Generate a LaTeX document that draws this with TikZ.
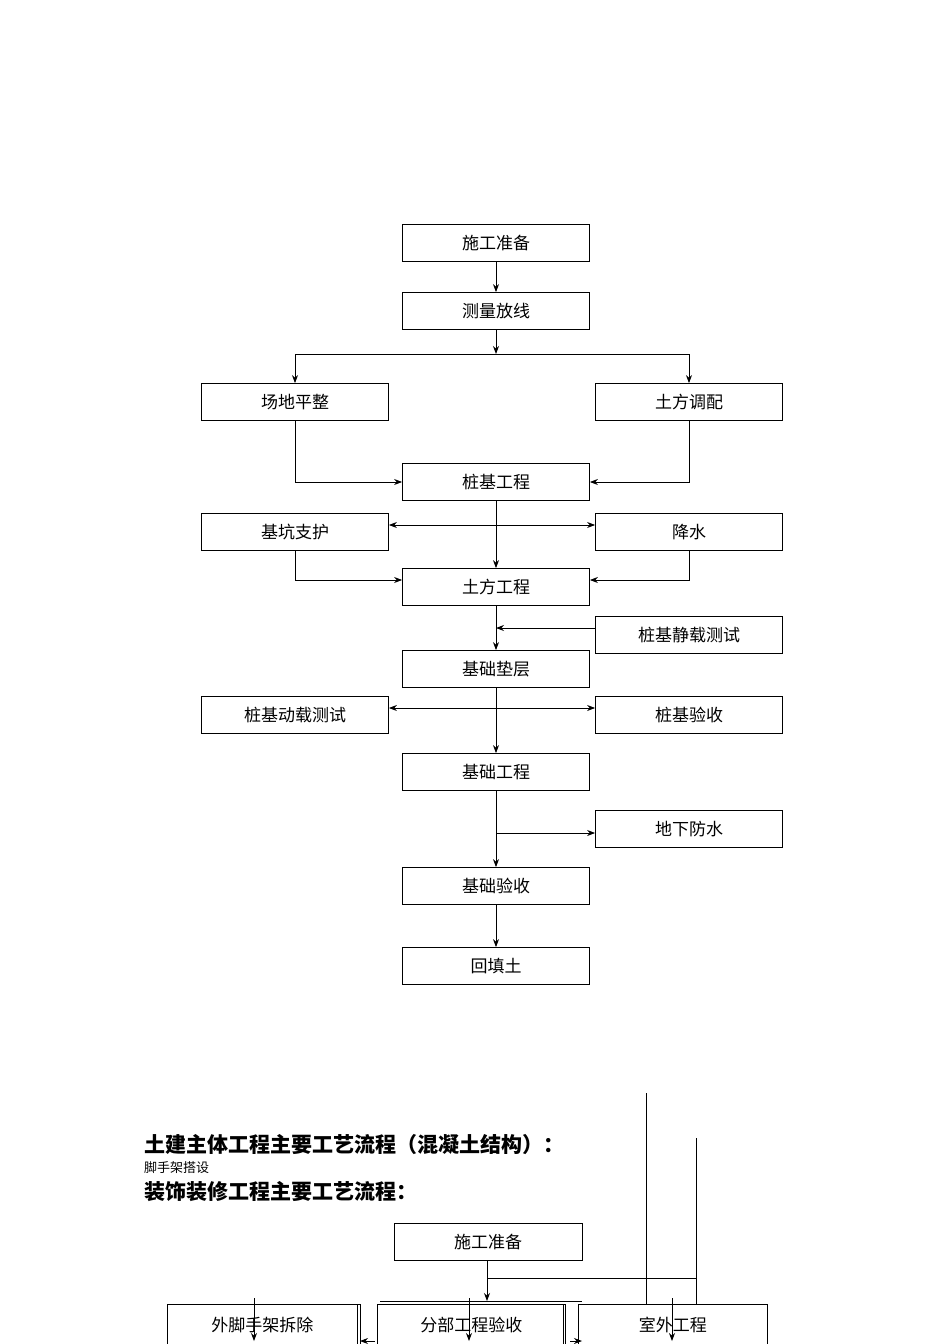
\documentclass[tikz,border=0pt]{standalone}
\usepackage{fontspec}
\newfontfamily\cjk{Noto Sans CJK SC}
\usetikzlibrary{arrows.meta}
\begin{document}
\begin{tikzpicture}[x=1pt,y=-1pt,
  bx/.style={draw,line width=0.8pt,minimum width=187pt,minimum height=37pt,inner sep=0pt,font=\cjk\fontsize{17}{17}\selectfont},
  ar/.style={-{Stealth[length=8pt,width=6pt]},line width=0.8pt},
  ln/.style={line width=0.8pt},
  dar/.style={{Stealth[length=8pt,width=6pt]}-{Stealth[length=8pt,width=6pt]},line width=0.8pt}]
\useasboundingbox (0,0) rectangle (950,1344);
\node[bx] (a) at (496,243) {施工准备};
\node[bx] (b) at (496,311) {测量放线};
\node[bx] (l1) at (295,402) {场地平整};
\node[bx] (r1) at (689,402) {土方调配};
\node[bx] (c) at (496,482) {桩基工程};
\node[bx] (l2) at (295,532) {基坑支护};
\node[bx] (r2) at (689,532) {降水};
\node[bx] (d) at (496,587) {土方工程};
\node[bx] (r3) at (689,635) {桩基静载测试};
\node[bx] (e) at (496,669) {基础垫层};
\node[bx] (l4) at (295,715) {桩基动载测试};
\node[bx] (r4) at (689,715) {桩基验收};
\node[bx] (f) at (496,772) {基础工程};
\node[bx] (r5) at (689,829) {地下防水};
\node[bx] (g) at (496,886) {基础验收};
\node[bx] (h) at (496,966) {回填土};
\coordinate (j1) at (496,354);
\draw[ar] (a) -- (b);
\draw[ar] (b) -- (j1);
\draw[ln] (l1.north |- j1) -- (r1.north |- j1);
\draw[ar] (l1.north |- j1) -- (l1);
\draw[ar] (r1.north |- j1) -- (r1);
\draw[ar] (l1.south) |- (c.west);
\draw[ar] (r1.south) |- (c.east);
\draw[dar] (l2.east |- 0,525) -- (r2.west |- 0,525);
\draw[ar] (c) -- (d);
\draw[ar] (l2.south) |- ([yshift=7pt]d.west);
\draw[ar] (r2.south) |- ([yshift=7pt]d.east);
\draw[ar] (r3.west |- 0,628) -- (496,628);
\draw[ar] (d) -- (e);
\draw[dar] (l4.east |- 0,708) -- (r4.west |- 0,708);
\draw[ar] (e) -- (f);
\draw[ar] (496,833) -- (r5.west |- 0,833);
\draw[ar] (f) -- (g);
\draw[ar] (g) -- (h);
% bottom part
\node[anchor=west,font=\cjk\bfseries\fontsize{21}{21}\selectfont,inner sep=0pt] (t1) at (144,1145) {土建主体工程主要工艺流程（混凝土结构）：};
\node[anchor=west,font=\cjk\fontsize{13}{13}\selectfont,inner sep=0pt] (t2) at (144,1168) {脚手架搭设};
\node[anchor=west,font=\cjk\bfseries\fontsize{21}{21}\selectfont,inner sep=0pt] (t3) at (144,1192) {装饰装修工程主要工艺流程：};
\node[bx,minimum width=188pt] (p) at (488,1242) {施工准备};
\draw[ln] (646,1093) -- (646,1304);
\draw[ln] (696,1138) -- (696,1304);
\draw[ln] (487,1278) -- (696,1278);
\node[bx,minimum width=190pt,minimum height=42pt,anchor=north west] (q1) at (167,1304) {外脚手架拆除};
\node[bx,minimum width=188pt,minimum height=42pt,anchor=north west] (q2) at (377,1304) {分部工程验收};
\node[bx,minimum width=189pt,minimum height=42pt,anchor=north west] (q3) at (578,1304) {室外工程};
\draw[ln] (q1.north east) ++(3,0) -- ++(0,42);
\draw[ln] (q1.north east) -- ++(3,0);
\draw[ln] (380,1301) -- (582,1301);
\draw[ln] (563,1304) -- ++(0,42);
\draw[ar] (487,1261) -- (487,1301);
\draw[ar] (254,1298) -- (254,1341);
\draw[ar] (469,1298) -- (469,1341);
\draw[ar] (672,1298) -- (672,1341);
\draw[ar] (375,1341) -- (360,1341);
\draw[ar] (570,1341) -- (582,1341);
\end{tikzpicture}
\end{document}
